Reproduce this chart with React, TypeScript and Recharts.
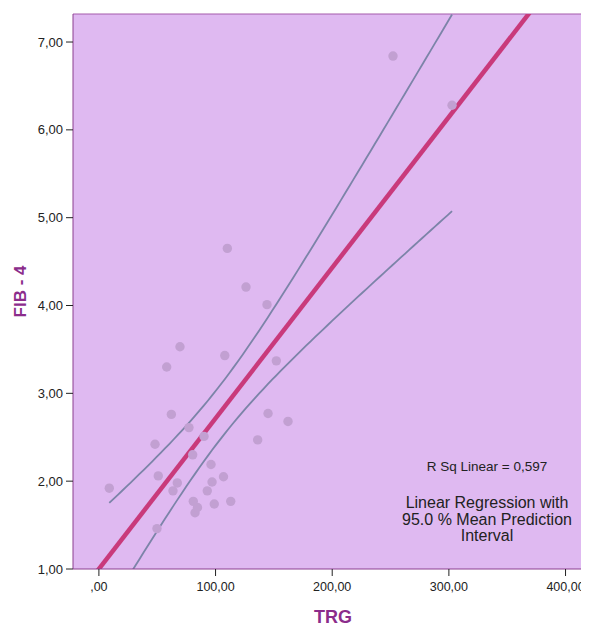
import React from 'react';
import {
    ComposedChart, Scatter, Line, XAxis, YAxis, CartesianGrid, ReferenceLine
} from 'recharts';

// TRG (x) and FIB-4 (y) values
const trgValues = [
    8.9, 48.1, 49.8, 50.9, 58.1, 62.1, 63.5, 67.2, 69.5, 77.2,
    80.4, 80.9, 82.4, 84.5, 90.1, 92.9, 96.1, 97.0, 98.9, 106.8,
    107.9, 110.1, 113.0, 126.1, 136.1, 144.1, 145.0, 152.1, 162.1, 252.1,
    302.7
];
const fib4Values = [
    1.92, 2.42, 1.46, 2.06, 3.30, 2.76, 1.89, 1.98, 3.53, 2.61,
    2.30, 1.77, 1.64, 1.70, 2.51, 1.89, 2.19, 1.99, 1.74, 2.05,
    3.43, 4.65, 1.77, 4.21, 2.47, 4.01, 2.77, 3.37, 2.68, 6.84,
    6.28
];
const xTicks = [0, 100, 200, 300, 400];
const yTicks = [1, 2, 3, 4, 5, 6, 7];

const X_DOMAIN: [number, number] = [-22.2, 430.4];
const Y_DOMAIN: [number, number] = [1, 7.319];
const T_CRIT = 2.045; // t(0.975, df = 29)

const FONT = '"Liberation Sans", Arial, sans-serif';
const PURPLE = '#8B2C8B';

const points = trgValues.map((x, i) => ({ x, y: fib4Values[i] }));

// least squares fit + 95% CI of the mean
const n = points.length;
const mx = trgValues.reduce((a, b) => a + b, 0) / n;
const my = fib4Values.reduce((a, b) => a + b, 0) / n;
let sxx = 0, sxy = 0;
points.forEach(p => { sxx += (p.x - mx) ** 2; sxy += (p.x - mx) * (p.y - my); });
const slope = sxy / sxx;
const intercept = my - slope * mx;
const sse = points.reduce((a, p) => a + (p.y - intercept - slope * p.x) ** 2, 0);
const se = Math.sqrt(sse / (n - 2));

const fitLine = X_DOMAIN.map(x => ({ x, y: intercept + slope * x }));

const xMin = Math.min(...trgValues);
const xMax = Math.max(...trgValues);
const ciX = Array.from({ length: 81 }, (_, i) => xMin + (xMax - xMin) * i / 80);
const halfWidth = (x: number) => T_CRIT * se * Math.sqrt(1 / n + (x - mx) ** 2 / sxx);
const ciUpper = ciX.map(x => ({ x, y: intercept + slope * x + halfWidth(x) }));
const ciLower = ciX.map(x => ({ x, y: intercept + slope * x - halfWidth(x) }));

const fmt = (v: number) => (v === 0 ? ',00' : `${v},00`);

const XTick = ({ x, y, payload }: any) => (
    <text x={x} y={y + 12} textAnchor="middle" fontFamily={FONT} fontSize={12.5} fill="#222">
        {fmt(payload.value)}
    </text>
);

export default function App() {
    return (
        <div style={{ fontFamily: FONT }}>
            <style>{'html, body { overflow: hidden; }'}</style>
            <ComposedChart
                width={593}
                height={618}
                margin={{ top: 6, right: 0, left: 5, bottom: 0 }}
            >
                <CartesianGrid horizontal={false} vertical={false} fill="#DFB9F1" />
                <XAxis
                    type="number"
                    dataKey="x"
                    domain={X_DOMAIN}
                    allowDataOverflow
                    ticks={xTicks}
                    interval={0}
                    height={57}
                    tickSize={7}
                    tickMargin={3}
                    axisLine={{ stroke: '#8B3F8F' }}
                    tickLine={{ stroke: '#222' }}
                    tick={<XTick />}
                />
                <YAxis
                    type="number"
                    dataKey="y"
                    domain={Y_DOMAIN}
                    allowDataOverflow
                    ticks={yTicks}
                    interval={0}
                    tickFormatter={fmt}
                    width={60}
                    tickSize={7}
                    tickMargin={3}
                    axisLine={{ stroke: '#8B3F8F' }}
                    tickLine={{ stroke: '#222' }}
                    tick={{ fill: '#222', fontSize: 13, fontFamily: FONT }}
                />
                <ReferenceLine y={Y_DOMAIN[1]} stroke="#A45AAB" strokeWidth={1} />
                <Scatter
                    data={points}
                    dataKey="y"
                    isAnimationActive={false}
                    shape={(p: any) => <circle cx={p.cx} cy={p.cy} r={4.7} fill="#C2A0D2" />}
                />
                <Line data={ciUpper} dataKey="y" type="linear" stroke="#7C84A8" strokeWidth={1.8} dot={false} isAnimationActive={false} />
                <Line data={ciLower} dataKey="y" type="linear" stroke="#7C84A8" strokeWidth={1.8} dot={false} isAnimationActive={false} />
                <Line data={fitLine} dataKey="y" type="linear" stroke="#C93A7B" strokeWidth={4.5} dot={false} isAnimationActive={false} />

                {/* axis titles */}
                <text x={12} y={283.5} transform="rotate(-90 12 283.5)" textAnchor="middle" dominantBaseline="central"
                    fontFamily={FONT} fontWeight="bold" fontSize={17} fill={PURPLE}>FIB - 4</text>
                <text x={325} y={609} textAnchor="middle" dominantBaseline="central"
                    fontFamily={FONT} fontWeight="bold" fontSize={18} fill={PURPLE}>TRG</text>

                {/* fit annotation */}
                <g fontFamily={FONT} fill="#222" textAnchor="middle">
                    <text x={479} y={458} fontSize={13.5} dominantBaseline="central">R Sq Linear = 0,597</text>
                    <text x={479} y={494} fontSize={16} dominantBaseline="central">Linear Regression with</text>
                    <text x={479} y={511} fontSize={16} dominantBaseline="central">95.0 % Mean Prediction</text>
                    <text x={479} y={527} fontSize={16} dominantBaseline="central">Interval</text>
                </g>
            </ComposedChart>
        </div>
    );
}
